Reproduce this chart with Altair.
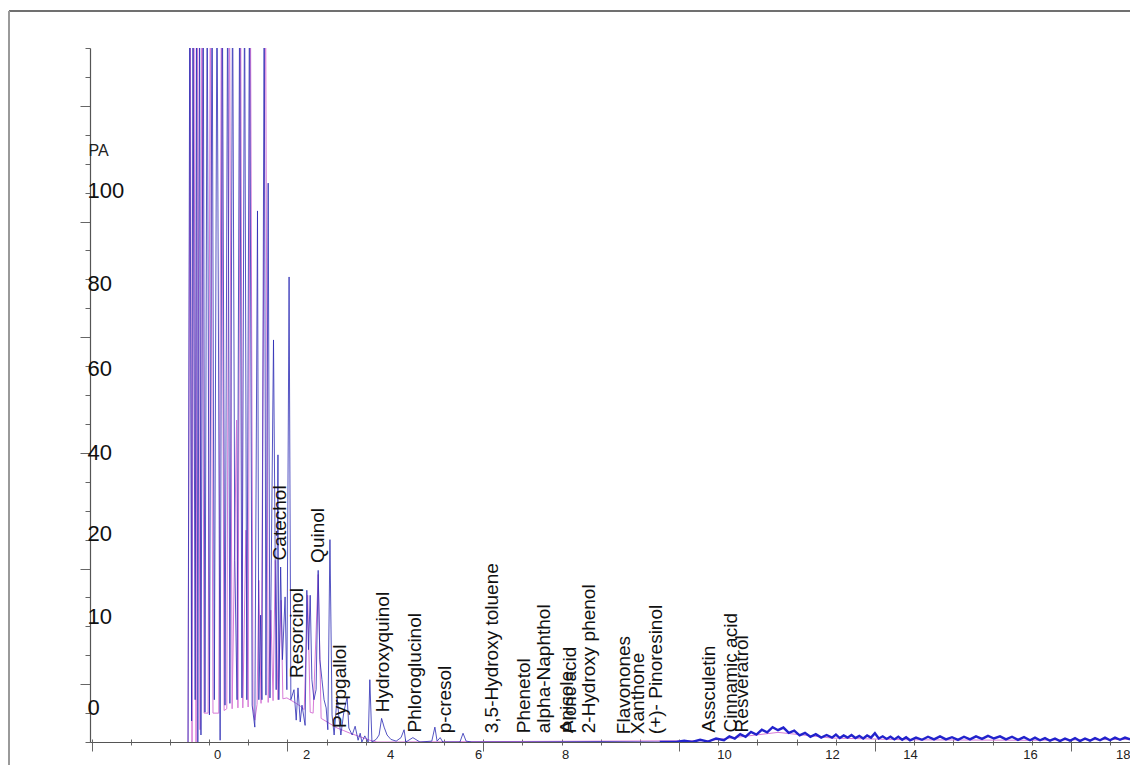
import altair as alt
import pandas as pd

# ---------------- data ----------------
# axis labels
x_label_values = [0, 2, 4, 6, 8, 10, 12, 14, 16, 18]
y_label_values = [0, 10, 20, 40, 60, 80, 100]

# the printed axes are not linear: breakpoints of the piecewise scales
x_break_values = [-2.85, 0, 2, 4, 6, 8, 10, 12, 14, 16, 18]
y_break_values = [-4, 0, 10, 20, 40, 60, 80, 100, 133]

# blue trace (retention time in min, signal in pA); 150 = off-scale spike
blue_time = [-0.65, -0.61, -0.57, -0.54, -0.49, -0.46, -0.43, -0.39, -0.36, -0.31,
             -0.27, -0.22, -0.17, -0.11, -0.06, 0.00, 0.07, 0.12, 0.18, 0.24,
             0.29, 0.35, 0.40, 0.45, 0.51, 0.56, 0.62, 0.67, 0.73, 0.79,
             0.85, 0.91, 0.94, 0.98, 1.01, 1.06, 1.10, 1.15, 1.19, 1.27,
             1.33, 1.37, 1.39, 1.43, 1.47, 1.53, 1.57, 1.62, 1.66, 1.73,
             1.78, 1.82, 1.87, 1.91, 1.98, 2.02, 2.06, 2.10, 2.14, 2.19,
             2.24, 2.29, 2.33, 2.38, 2.43, 2.48, 2.52, 2.57, 2.62, 2.67,
             2.74, 2.79, 2.83, 2.90, 2.98, 3.02, 3.10, 3.17, 3.24, 3.29,
             3.33, 3.40, 3.48, 3.52, 3.57, 3.67, 3.74, 3.80, 3.86, 3.93,
             4.02, 4.14, 4.25, 4.32, 4.36, 4.52, 4.68, 4.95, 5.02, 5.07,
             5.14, 5.20, 5.59, 5.66, 5.73, 5.86, 6.97, 8.44, 9.19,
             9.4, 9.5, 9.6, 9.7, 9.8, 9.9, 10.0, 10.1, 10.2, 10.3,
             10.4, 10.5, 10.6, 10.7, 10.8, 10.9, 11.0, 11.1, 11.2, 11.3,
             11.4, 11.5, 11.6, 11.7, 11.8, 11.9, 12.0, 12.1, 12.2, 12.3,
             12.4, 12.5, 12.6, 12.7, 12.8, 12.9, 13.0, 13.1, 13.2, 13.3,
             13.4, 13.5, 13.6, 13.7, 13.8, 13.9, 14.0, 14.1, 14.2, 14.3,
             14.4, 14.5, 14.6, 14.7, 14.8, 14.9, 15.0, 15.1, 15.2, 15.3,
             15.4, 15.5, 15.6, 15.7, 15.8, 15.9, 16.0, 16.1, 16.2, 16.3,
             16.4, 16.5, 16.6, 16.7, 16.8, 16.9, 17.0, 17.1, 17.2, 17.3,
             17.4, 17.5, 17.6, 17.7, 17.8, 17.9, 18.0]
blue_pa = [-4.0, 150, -1.6, 150, 0.8, 150, -4.0, 150, -3.2, 150,
           -0.6, 150, -0.9, 150, 0.8, 150, -3.8, 150, 0.2, 150,
           0.4, 150, 16.7, 0.8, 150, 1.0, 150, 0.8, 150, 0.2,
           -2.3, 95.5, 0.8, 10.1, 0.8, 150, 1.3, 101.6, 1.0, 66.6,
           1.9, 39.3, 0.8, 15.9, 5.2, 12.3, 1.9, 81.3, 0.8, 1.9,
           -1.5, 2.1, -1.7, 0.2, -2.1, 13.1, 6.3, 12.5, 3.0, 0.8,
           1.9, 15.5, 5.2, 3.0, 0.8, -0.1, -2.6, 19.2, -0.9, -3.2,
           1.1, -1.5, -3.2, -0.6, 1.1, -2.4, -3.2, -2.2, -3.8, -3.0,
           -4.0, -3.3, -4.0, 3.0, -4.0, -3.7, -3.2, -1.3, -2.3, -3.2,
           -3.7, -3.9, -3.5, -2.6, -4.0, -3.5, -4.0, -3.9, -2.3, -3.9,
           -3.5, -4.0, -4.0, -3.0, -3.9, -4.0, -4.0, -3.95, -4.0,
           -4.0, -3.85, -4.0, -3.75, -3.95, -3.6, -3.8, -3.35, -3.6, -3.1,
           -3.4, -2.85, -3.15, -2.6, -2.9, -2.3, -2.65, -2.35, -2.95, -2.7,
           -3.25, -2.95, -3.4, -3.1, -3.5, -3.2, -3.5, -3.15, -3.55, -3.25,
           -3.5, -3.2, -3.55, -3.3, -3.6, -3.25, -3.5, -3.0, -3.6, -3.35,
           -3.65, -3.4, -3.7, -3.4, -3.75, -3.45, -3.8, -3.5, -3.75, -3.4,
           -3.7, -3.35, -3.7, -3.45, -3.75, -3.4, -3.7, -3.35, -3.65, -3.3,
           -3.6, -3.35, -3.7, -3.4, -3.75, -3.45, -3.8, -3.5, -3.8, -3.55,
           -3.85, -3.6, -3.9, -3.6, -3.85, -3.55, -3.9, -3.6, -3.85, -3.55,
           -3.8, -3.5, -3.8, -3.5, -3.75, -3.5, -3.7]

# pink trace
pink_time = [-0.65, -0.60, -0.56, -0.52, -0.47, -0.44, -0.38, -0.34, -0.29, -0.20,
             -0.15, -0.09, 0.04, 0.10, 0.16, 0.22, 0.28, 0.34, 0.44, 0.47,
             0.53, 0.58, 0.65, 0.70, 0.75, 0.81, 0.85, 0.90, 0.94, 0.99,
             1.09, 1.15, 1.21, 1.26, 1.31, 1.37, 1.44, 1.48, 1.57, 1.64,
             1.78, 1.87, 1.96, 2.04, 2.10, 2.17, 2.29, 2.36, 2.50, 2.74,
             2.90, 3.05, 3.29, 3.52, 3.69, 3.88, 9.8, 11.0, 12.0, 14.0,
             16.0, 18.0]
pink_pa = [-4.0, 150, -4.0, 150, -4.0, 150, -2.6, 150, -0.7, -0.7,
           150, -0.7, -0.7, 150, -0.4, -0.2, 150, -0.2, 47.6, -0.1,
           150, -0.1, 20.7, 0.0, 150, 0.0, -1.5, 0.3, 14.3, 0.4,
           150, 0.5, 10.7, 0.7, 16.7, 0.8, 11.9, 0.9, 1.0, 0.8,
           0.4, 0.1, -0.3, 12.5, -0.6, -0.7, 15.0, -1.3, -1.7, -2.4,
           -2.7, -3.0, -3.4, -3.8, -4.0, -4.0, -3.85, -2.9, -3.55, -3.75,
           -3.8, -3.7]

# peak annotations
compound_names = ["Catechol", "Resorcinol", "Quinol", "Pyrpgallol", "Hydroxyquinol",
                  "Phloroglucinol", "p-cresol", "3,5-Hydroxy toluene", "Phenetol",
                  "alpha-Naphthol", "Anisole", "Picric acid", "2-Hydroxy phenol",
                  "Flavonones", "Xanthone", "(+)- Pinoresinol", "Assculetin",
                  "Cinnamic acid", "Resveratrol"]
compound_time = [1.42, 1.80, 2.29, 2.81, 3.83, 4.57, 5.25, 6.32, 7.06, 7.52,
                 8.03, 8.06, 8.30, 8.74, 8.92, 9.14, 9.81, 10.13, 10.33]
label_level = [16.7, 3.2, 16.4, -2.4, -0.6, -2.9, -3.0, -3.0, -3.0, -3.0,
               -3.0, -3.0, -3.0, -3.1, -3.1, -3.1, -2.9, -2.9, -2.9]

# ---------------- chart ----------------
W, H = 1040, 694
FONT = "Liberation Sans"
SPLIT = 9.19  # where the dense early part of the blue trace ends

blue_df = pd.DataFrame({"t": blue_time, "pa": blue_pa, "order": range(len(blue_time))})
pink_df = pd.DataFrame({"t": pink_time, "pa": pink_pa, "order": range(len(pink_time))})
lab_df = pd.DataFrame({"t": compound_time, "pa": label_level, "name": compound_names})
one = pd.DataFrame({"d": [0.0]})

x_scale = alt.Scale(domain=x_break_values,
                    range=[0, 127, 216, 300, 388, 475, 634, 742, 820, 940, W],
                    nice=False, zero=False)
y_scale = alt.Scale(domain=y_break_values,
                    range=[H, 659, 568, 485, 404, 320, 235, 142, 0],
                    nice=False, zero=False)

x_axis = alt.Axis(orient="bottom", values=x_label_values, ticks=False, tickSize=0,
                  domain=False, grid=False, labelFontSize=13, labelPadding=6,
                  labelFlush=True, labelOverlap=False, labelColor="#222", title=None)
y_axis = alt.Axis(orient="left", values=y_label_values, ticks=False, tickSize=0,
                  domain=False, grid=False, labelFontSize=22, labelAlign="left",
                  labelPadding=3, labelFlush=False, labelOverlap=False,
                  labelColor="#111", title="PA", titleAngle=0, titleX=-2, titleY=102,
                  titleAlign="left", titleBaseline="middle", titleFontSize=16,
                  titleFontWeight="normal", titleColor="#222")

X = alt.X("t:Q", scale=x_scale, axis=x_axis)
Y = alt.Y("pa:Q", scale=y_scale, axis=y_axis)

pink = alt.Chart(pink_df).mark_line(color="#d77ad7", strokeWidth=1, clip=True).encode(
    x=X, y=Y, order="order:Q")
blue_early = alt.Chart(blue_df).transform_filter(alt.datum.t <= SPLIT).mark_line(
    color="#2a2ab4", strokeWidth=1, strokeOpacity=0.8, clip=True).encode(
    x=X, y=Y, order="order:Q")
blue_late = alt.Chart(blue_df).transform_filter(alt.datum.t >= SPLIT).mark_line(
    color="#2222cc", strokeWidth=2.4, clip=True).encode(
    x=X, y=Y, order="order:Q")
labels = alt.Chart(lab_df).mark_text(angle=270, align="left", baseline="middle",
                                     fontSize=19, font=FONT, color="#111").encode(
    x=X, y=Y, text="name:N")
data_layer = alt.layer(pink, blue_early, blue_late, labels)

# uniform tick marks of the original plot (independent of the printed labels)
tick_layer = alt.Chart(one).mark_point(opacity=0).encode(
    x=alt.X("d:Q", scale=alt.Scale(domain=[-0.04, 26.51], nice=False, zero=False),
            axis=alt.Axis(orient="bottom", values=list(range(27)), labels=False,
                          grid=False, title=None, domain=True, domainColor="#555",
                          domainWidth=1.2, tickColor="#666", tickWidth=1,
                          tickSize={"condition": {"test": "datum.value % 5 === 0", "value": 9},
                                    "value": 3})),
    y=alt.Y("d:Q", scale=alt.Scale(domain=[0, 24], nice=False, zero=False),
            axis=alt.Axis(orient="left", values=list(range(25)), labels=False,
                          grid=False, title=None, domain=True, domainColor="#555",
                          domainWidth=1.2, tickColor="#666", tickWidth=1,
                          tickSize={"condition": {"test": "datum.value % 4 === 2", "value": 10},
                                    "value": 5})),
)
tick_up = alt.Chart(one).mark_point(opacity=0).encode(
    x=alt.X("d:Q", scale=alt.Scale(domain=[-0.04, 26.51], nice=False, zero=False),
            axis=alt.Axis(orient="top", offset=-H, values=list(range(27)), labels=False,
                          grid=False, title=None, domain=False, tickColor="#666",
                          tickWidth=1, tickSize=3)),
)

frame_top = alt.Chart(one).mark_rule(color="#707070", strokeWidth=2).encode(
    x=alt.value(-81), x2=alt.value(W + 10), y=alt.value(-37))
frame_left = alt.Chart(one).mark_rule(color="#9a9a9a", strokeWidth=2).encode(
    x=alt.value(-81), y=alt.value(-37), y2=alt.value(H + 40))

chart = alt.layer(tick_layer, tick_up, data_layer, frame_top, frame_left).resolve_scale(
    x="independent", y="independent"
).properties(
    width=W, height=H,
    padding={"left": 82, "top": 40, "right": 0, "bottom": 23},
    autosize=alt.AutoSizeParams(type="none"),
).configure_view(stroke="transparent").configure_axis(
    labelFont=FONT, titleFont=FONT
)

chart.save("out.html", embed_options={"renderer": "svg", "actions": False})
